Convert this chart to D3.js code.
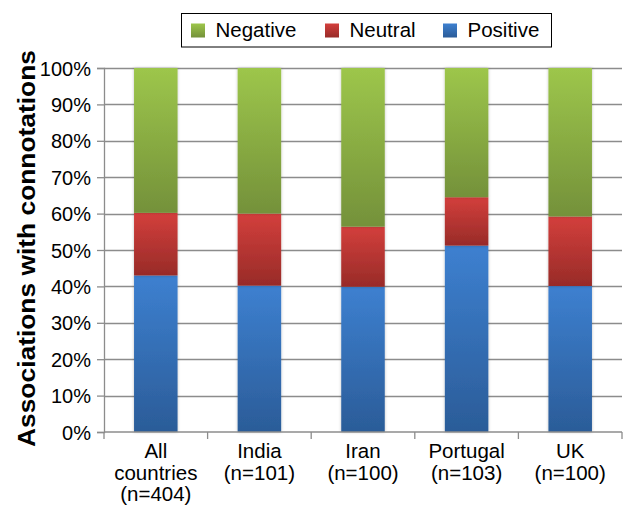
<!DOCTYPE html>
<html>
<head>
<meta charset="utf-8">
<script src="https://cdn.jsdelivr.net/npm/d3@7"></script>
<style>
  body { margin: 0; background: #fff; }
  text { font-family: "Liberation Sans", Arial, sans-serif; }
</style>
</head>
<body>
<svg id="chart" width="636" height="508"></svg>
<script>
const categories = [["All", "countries", "(n=404)"], ["India", "(n=101)"], ["Iran", "(n=100)"], ["Portugal", "(n=103)"], ["UK", "(n=100)"]];
const positive = [43, 40.2, 39.9, 51.2, 40.1];
const neutral = [17.2, 19.8, 16.5, 13.3, 19.1];
const negative = [39.8, 40, 43.6, 35.5, 40.8];
const yTicks = [0, 10, 20, 30, 40, 50, 60, 70, 80, 90, 100];
const seriesNames = ["Positive", "Neutral", "Negative"];
const legendOrder = ["Negative", "Neutral", "Positive"];

const colors = {
  Positive: ["#3d80d0", "#2b5c98"],
  Neutral: ["#d33f3c", "#982b28"],
  Negative: ["#9dc64b", "#74913a"]
};

const svg = d3.select("#chart");
const margin = { left: 104, right: 14, top: 68, bottom: 76 };
const width = 636, height = 508;

const x = d3.scaleBand()
  .domain(categories.map((d, i) => i))
  .range([margin.left, width - margin.right])
  .paddingInner(0.58).paddingOuter(0.29);
const xOuter = d3.scaleBand()
  .domain(categories.map((d, i) => i))
  .range([margin.left, width - margin.right]);
const y = d3.scaleLinear().domain([0, 100]).range([height - margin.bottom, margin.top]);

const defs = svg.append("defs");
seriesNames.forEach(s => {
  const g = defs.append("linearGradient").attr("id", "grad-" + s)
    .attr("x1", 0).attr("y1", 0).attr("x2", 0).attr("y2", 1);
  g.append("stop").attr("offset", "0%").attr("stop-color", colors[s][0]);
  g.append("stop").attr("offset", "100%").attr("stop-color", colors[s][1]);
});
const f = defs.append("filter").attr("id", "shadow")
  .attr("x", "-20%").attr("y", "-5%").attr("width", "140%").attr("height", "110%");
f.append("feDropShadow").attr("dx", 0).attr("dy", 0).attr("stdDeviation", 1.5)
  .attr("flood-color", "#000").attr("flood-opacity", 0.25);

// gridlines
svg.append("g").selectAll("line").data(yTicks.slice(1)).join("line")
  .attr("x1", margin.left).attr("x2", width - margin.right)
  .attr("y1", d => Math.round(y(d)) + 0.5).attr("y2", d => Math.round(y(d)) + 0.5)
  .attr("stroke", "#8c8c8c").attr("stroke-width", 1.3);

// stacked data
const table = categories.map((c, i) => ({ i, Positive: positive[i], Neutral: neutral[i], Negative: negative[i] }));
const stacked = d3.stack().keys(seriesNames)(table);

svg.append("g").selectAll("g").data(stacked).join("g")
  .attr("fill", d => `url(#grad-${d.key})`)
  .selectAll("rect").data(d => d).join("rect")
  .attr("x", d => x(d.data.i))
  .attr("width", x.bandwidth())
  .attr("y", d => y(d[1]))
  .attr("height", d => y(d[0]) - y(d[1]))
  .attr("filter", "url(#shadow)");

// y axis
const yAxis = svg.append("g").attr("transform", `translate(${margin.left},0)`)
  .call(d3.axisLeft(y).tickValues(yTicks).tickFormat(d => d + "%").tickSize(7).tickPadding(6));
yAxis.selectAll("line,path").attr("stroke", "#8c8c8c").attr("stroke-width", 1.3);
yAxis.selectAll("text").attr("font-size", 20).attr("fill", "#000").attr("dy", "0.35em")
  .style("font-family", "'Liberation Sans', Arial, sans-serif");

// x axis
const xAxisG = svg.append("g").attr("transform", `translate(0,${height - margin.bottom})`);
xAxisG.append("line").attr("x1", margin.left).attr("x2", width - margin.right)
  .attr("stroke", "#8c8c8c").attr("stroke-width", 1.3);
const bounds = categories.map((d, i) => xOuter(i)).concat([xOuter(categories.length - 1) + xOuter.bandwidth()]);
xAxisG.selectAll(".tk").data(bounds).join("line")
  .attr("x1", d => d).attr("x2", d => d).attr("y1", 0).attr("y2", 7)
  .attr("stroke", "#8c8c8c").attr("stroke-width", 1.3);
xAxisG.selectAll(".lbl").data(categories).join("text")
  .attr("text-anchor", "middle").attr("font-size", 20.5)
  .attr("transform", (d, i) => `translate(${xOuter(i) + xOuter.bandwidth() / 2},0)`)
  .selectAll("tspan").data(d => d).join("tspan")
  .attr("x", 0).attr("y", (d, j) => 26 + j * 21.5)
  .text(d => d);

// y title
svg.append("text")
  .attr("transform", "translate(35,248.5) rotate(-90)")
  .attr("text-anchor", "middle").attr("font-size", 24).attr("font-weight", "bold")
  .attr("textLength", 397).attr("lengthAdjust", "spacingAndGlyphs")
  .text("Associations with connotations");

// legend
const lg = svg.append("g");
lg.append("rect").attr("x", 181.5).attr("y", 13.5).attr("width", 370).attr("height", 33.5)
  .attr("fill", "#fff").attr("stroke", "#000").attr("stroke-width", 1);
const lx = [191, 325, 443];
legendOrder.forEach((s, i) => {
  lg.append("rect").attr("x", lx[i]).attr("y", 23.5).attr("width", 14).attr("height", 14)
    .attr("fill", `url(#grad-${s})`);
  lg.append("text").attr("x", lx[i] + 24.5).attr("y", 37).attr("font-size", 20.5).text(s);
});
</script>
</body>
</html>
